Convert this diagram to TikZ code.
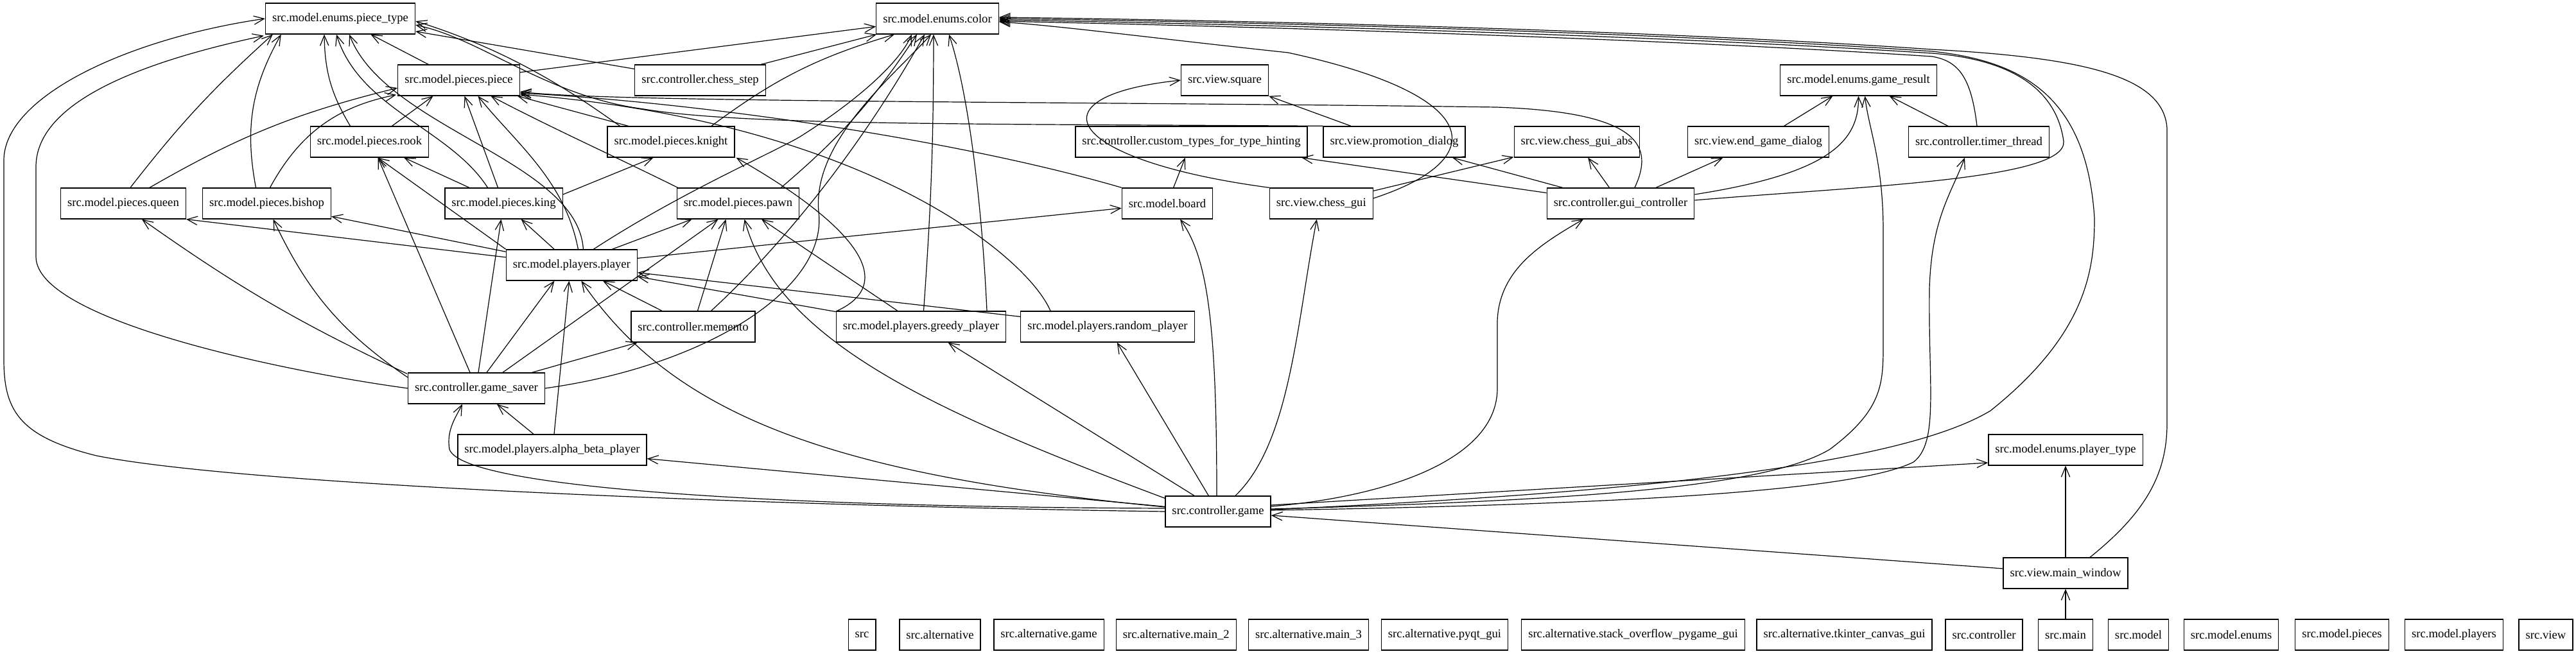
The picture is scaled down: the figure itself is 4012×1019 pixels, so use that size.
\documentclass[tikz,border=0pt]{standalone}
\usepackage{fontspec}
\setmainfont{Liberation Serif}
\usetikzlibrary{arrows.meta,calc}
\begin{document}
\begin{tikzpicture}[x=0.75pt,y=-0.75pt,
  mod/.style={draw, line width=1pt, minimum height=36pt, inner xsep=7.9pt, inner ysep=0pt, font=\fontsize{14}{16}\selectfont},
  dep/.style={-{Straight Barb[length=12pt,width=10pt]}, line width=0.9pt}]
\useasboundingbox (0,0) rectangle (4012,1019);
% nodes
\node[mod] (PT) at (530,29) {src.model.enums.piece\_type};
\node[mod] (CO) at (1460,29) {src.model.enums.color};
\node[mod] (PC) at (714.5,125) {src.model.pieces.piece};
\node[mod] (CS) at (1090.5,125) {src.controller.chess\_step};
\node[mod] (SQ) at (1907.5,125) {src.view.square};
\node[mod] (GR) at (2894.5,125) {src.model.enums.game\_result};
\node[mod] (RK) at (575.5,221) {src.model.pieces.rook};
\node[mod] (KN) at (1045,221) {src.model.pieces.knight};
\node[mod] (CT) at (1855.5,221) {src.controller.custom\_types\_for\_type\_hinting};
\node[mod] (PD) at (2171.5,221) {src.view.promotion\_dialog};
\node[mod] (GA) at (2455.7,221) {src.view.chess\_gui\_abs};
\node[mod] (ED) at (2738.5,221) {src.view.end\_game\_dialog};
\node[mod] (TT) at (3082,221) {src.controller.timer\_thread};
\node[mod] (QU) at (192,317) {src.model.pieces.queen};
\node[mod] (BI) at (415.5,317) {src.model.pieces.bishop};
\node[mod] (KI) at (784.5,317) {src.model.pieces.king};
\node[mod] (PW) at (1149.5,317) {src.model.pieces.pawn};
\node[mod] (BO) at (1818,317) {src.model.board};
\node[mod] (CG) at (2057.8,317) {src.view.chess\_gui};
\node[mod] (GC) at (2524,317) {src.controller.gui\_controller};
\node[mod] (PL) at (890.4,413) {src.model.players.player};
\node[mod] (ME) at (1079.5,509) {src.controller.memento};
\node[mod] (GP) at (1434.5,509) {src.model.players.greedy\_player};
\node[mod] (RP) at (1725,509) {src.model.players.random\_player};
\node[mod] (GS) at (742,605) {src.controller.game\_saver};
\node[mod] (AB) at (860,701) {src.model.players.alpha\_beta\_player};
\node[mod] (PY) at (3217,701) {src.model.enums.player\_type};
\node[mod] (GM) at (1897,797) {src.controller.game};
\node[mod] (MW) at (3217,893) {src.view.main\_window};
% isolated row
\node[mod] (n1) at (1342.6,989) {src};
\node[mod] (n2) at (1464,989) {src.alternative};
\node[mod] (n3) at (1633.5,989) {src.alternative.game};
\node[mod] (n4) at (1831.8,989) {src.alternative.main\_2};
\node[mod] (n5) at (2038,989) {src.alternative.main\_3};
\node[mod] (n6) at (2250,989) {src.alternative.pyqt\_gui};
\node[mod] (n7) at (2543.5,989) {src.alternative.stack\_overflow\_pygame\_gui};
\node[mod] (n8) at (2872.6,989) {src.alternative.tkinter\_canvas\_gui};
\node[mod] (n9) at (3090,989) {src.controller};
\node[mod] (MA) at (3217,989) {src.main};
\node[mod] (n11) at (3330.5,989) {src.model};
\node[mod] (n12) at (3475,989) {src.model.enums};
\node[mod] (n13) at (3647.5,989) {src.model.pieces};
\node[mod] (n14) at (3822,989) {src.model.players};
\node[mod] (n15) at (3965,989) {src.view};
% ---- edges into piece_type
\draw[dep] (GM.west) .. controls (1300,790) and (400,760) .. (150,710) .. controls (30,680) and (6,640) .. (6,560) -- (6,250) .. controls (6,150) and (200,60) .. (PT.west);
\draw[dep] (GS.west) .. controls (450,580) and (56,500) .. (56,400) -- (56,260) .. controls (56,150) and (250,90) .. ($(PT.south west)+(-2,2)$);
\draw[dep] ($(QU.north)+(11,0)$) to[bend left=5] ($(PT.south west)+(12,0)$);
\draw[dep] ($(BI.north)+(-17,0)$) to[bend left=20] ($(PT.south west)+(25,0)$);
\draw[dep] ($(RK.north)+(-30,0)$) to[bend left=15] ($(PT.south)+(-25,0)$);
\draw[dep] ($(KI.north)+(-25,0)$) .. controls (700,200) and (560,170) .. ($(PT.south)+(-6,0)$);
\draw[dep] ($(PL.north)+(18,0)$) .. controls (900,250) and (600,200) .. ($(PT.south)+(14,0)$);
\draw[dep] (PC) -- (PT);
\draw[dep] (CS) -- (PT);
\draw[dep] ($(KN.north west)+(20,0)$) .. controls (900,150) and (800,80) .. ($(PT.east)+(0,4)$);
\draw[dep] ($(PD.north west)$) .. controls (1500,193) and (1150,195) .. (1003,170) .. controls (850,150) and (750,60) .. ($(PT.east)+(0,10)$);
% ---- edges into color
\draw[dep] (PC) -- (CO);
\draw[dep] (CS) -- (CO);
\draw[dep] ($(KN.north)+(63,0)$) to[bend left=10] ($(CO.south west)+(29,0)$);
\draw[dep] ($(PW.north)+(67,0)$) to[bend right=8] ($(CO.south)+(-32,0)$);
\draw[dep] ($(PL.north)+(34,0)$) .. controls (1060,300) and (1200,240) .. (1246,213) .. controls (1330,160) and (1400,100) .. ($(CO.south)+(-40,0)$);
\draw[dep] ($(ME.north)+(28,0)$) .. controls (1200,400) and (1330,250) .. ($(CO.south)+(-20,0)$);
\draw[dep] (GS.east) .. controls (1100,570) and (1290,450) .. (1275,330) .. controls (1265,220) and (1390,120) .. ($(CO.south)+(-10,0)$);
\draw[dep] ($(GP.north)+(4,0)$) to[bend right=2] ($(CO.south)+(-6,0)$);
\draw[dep] ($(RP.north)+(-188,0)$) .. controls (1530,330) and (1510,150) .. ($(CO.south)+(18,0)$);
\draw[dep] ($(CG.east)+(0,-8)$) .. controls (2320,250) and (2320,150) .. (2006,82) .. controls (1800,60) and (1650,40) .. ($(CO.east)+(0,5)$);
\draw[dep] ($(GC.east)+(0,-5)$) .. controls (2900,290) and (3220,280) .. (3214,220) .. controls (3200,120) and (3100,90) .. (3009,83) .. controls (2500,50) and (1800,35) .. ($(CO.east)+(0,2)$);
\draw[dep] ($(TT.north)+(-3,0)$) .. controls (3070,120) and (3050,95) .. (3009,88) .. controls (2500,55) and (1800,38) .. ($(CO.east)+(0,4)$);
\draw[dep] ($(GM.east)+(0,-3)$) .. controls (2500,770) and (2950,730) .. (3100,640) .. controls (3250,520) and (3262,420) .. (3262,340) .. controls (3250,150) and (3150,95) .. (3009,80) .. controls (2500,45) and (1800,32) .. ($(CO.east)+(0,0)$);
\draw[dep] ($(MW.north)+(38,0)$) .. controls (3340,800) and (3375,740) .. (3375,660) -- (3375,200) .. controls (3370,120) and (3250,90) .. (3009,77) .. controls (2500,42) and (1800,30) .. ($(CO.east)+(0,-2)$);
% ---- edges into piece
\draw[dep] ($(QU.north)+(41,0)$) to[bend left=8] ($(PC.west)+(0,12)$);
\draw[dep] ($(BI.north)+(5,0)$) to[bend left=25] ($(PC.south west)+(-2,-2)$);
\draw[dep] ($(RK.north)+(35,0)$) -- ($(PC.south)+(-40,0)$);
\draw[dep] (KI) -- (PC);
\draw[dep] ($(KN.north west)+(33,0)$) -- ($(PC.south east)+(-4,0)$);
\draw[dep] ($(PW.north west)+(2,0)$) .. controls (950,240) and (860,200) .. ($(PC.south)+(50,0)$);
\draw[dep] ($(PL.north)+(10,0)$) .. controls (880,280) and (800,220) .. ($(PC.south)+(30,0)$);
\draw[dep] ($(GC.north)+(22,0)$) .. controls (2575,230) and (2560,175) .. (2330,167) .. controls (1700,158) and (950,160) .. ($(PC.east)+(0,18)$);
\draw[dep] (BO.north west) .. controls (1500,220) and (1100,160) .. ($(PC.east)+(0,20)$);
\draw[dep] ($(RP.north)+(-89,0)$) .. controls (1600,400) and (1350,190) .. ($(PC.east)+(0,22)$);
% ---- pieces from player / game_saver / king
\draw[dep] (PL.north west) -- ($(RK.south)+(13,0)$);
\draw[dep] (KI) -- (RK);
\draw[dep] ($(KI.east)+(0,-14)$) -- ($(KN.south west)+(72,0)$);
\draw[dep] (PL) -- (QU.south east);
\draw[dep] (PL) -- (BI);
\draw[dep] (PL) -- (KI);
\draw[dep] ($(PL.north)+(63,0)$) -- ($(PW.south west)+(24,0)$);
\draw[dep] (PL) -- (BO);
\draw[dep] ($(GS.north)+(-10,0)$) -- ($(RK.south)+(13,0)$);
\draw[dep] ($(GS.north)+(3,0)$) -- ($(KI.south)+(-4,0)$);
\draw[dep] ($(GS.north)+(16,0)$) -- ($(PL.south)+(-27,0)$);
\draw[dep] ($(GS.north west)+(-1,2)$) to[bend left=5] ($(QU.south)+(29,0)$);
\draw[dep] ($(GS.west)+(0,-17)$) to[bend left=15] ($(BI.south)+(10,0)$);
\draw[dep] (GS) -- (ME);
\draw[dep] ($(GS.north)+(41,0)$) -- ($(PW.south)+(-31,0)$);
\draw[dep] ($(GP.north west)+(2,0)$) .. controls (1400,440) and (1330,350) .. ($(KN.south east)+(2,0)$);
% ---- memento, players
\draw[dep] (ME) -- (PL);
\draw[dep] ($(ME.north)+(7,0)$) -- ($(PW.south)+(-19,0)$);
\draw[dep] (GP) -- (PL);
\draw[dep] (RP) -- (PL);
\draw[dep] (GP) -- (PW);
\draw[dep] ($(AB.north)+(3,0)$) -- ($(PL.south)+(-4,0)$);
\draw[dep] ($(AB.north)+(-29,0)$) -- ($(GS.south)+(32,0)$);
% ---- game
\draw[dep] ($(GM.west)+(0,-5)$) .. controls (1200,790) and (720,760) .. (700,700) .. controls (695,670) and (710,650) .. ($(GS.south)+(-22,0)$);
\draw[dep] (GM) -- (AB);
\draw[dep] ($(GM.west)+(0,-7)$) .. controls (1300,740) and (1050,650) .. ($(PL.south)+(15,0)$);
\draw[dep] ($(GM.north west)+(0,4)$) .. controls (1450,640) and (1210,530) .. ($(PW.south)+(10,0)$);
\draw[dep] ($(GM.north)+(-37,0)$) -- ($(GP.south)+(42,0)$);
\draw[dep] (GM) -- (RP);
\draw[dep] ($(GM.north)+(-2,0)$) .. controls (1895,500) and (1880,400) .. ($(BO.south)+(20,0)$);
\draw[dep] ($(GM.north)+(27,0)$) .. controls (2010,690) and (2020,500) .. ($(CG.south)+(-7,0)$);
\draw[dep] ($(GM.east)+(0,-8)$) .. controls (2150,775) and (2330,720) .. (2332,607) -- (2332,500) .. controls (2335,420) and (2400,380) .. ($(GC.south)+(-58,0)$);
\draw[dep] ($(GM.east)+(0,-4)$) .. controls (2450,780) and (2750,760) .. (2850,700) .. controls (2930,640) and (2933,600) .. (2933,540) -- (2933,360) .. controls (2933,250) and (2910,200) .. ($(GR.south)+(10,0)$);
\draw[dep] ($(GM.east)+(0,-2)$) .. controls (2600,785) and (2900,760) .. (2980,720) .. controls (3020,690) and (3003,600) .. (3005,450) .. controls (3008,340) and (3040,300) .. ($(TT.south)+(-22,0)$);
\draw[dep] ($(GM.east)+(0,-10)$) -- ($(PY.west)+(0,20)$);
\draw[dep] (MW) -- (GM);
\draw[dep] (MW) -- (PY);
\draw[dep] (MA) -- (MW);
% ---- gui side
\draw[dep] (GC) -- (CT);
\draw[dep] (GC) -- (PD);
\draw[dep] (GC) -- (GA);
\draw[dep] (GC) -- (ED);
\draw[dep] ($(GC.east)+(0,-14)$) .. controls (2850,270) and (2895,220) .. ($(GR.south)+(0,0)$);
\draw[dep] (ED) -- (GR);
\draw[dep] (TT) -- (GR);
\draw[dep] (CG) -- (GA);
\draw[dep] (CG.north west) .. controls (1660,250) and (1600,150) .. (SQ.west);
\draw[dep] (PD) -- (SQ.south east);
\draw[dep] (BO) -- (CT);
\end{tikzpicture}
\end{document}
